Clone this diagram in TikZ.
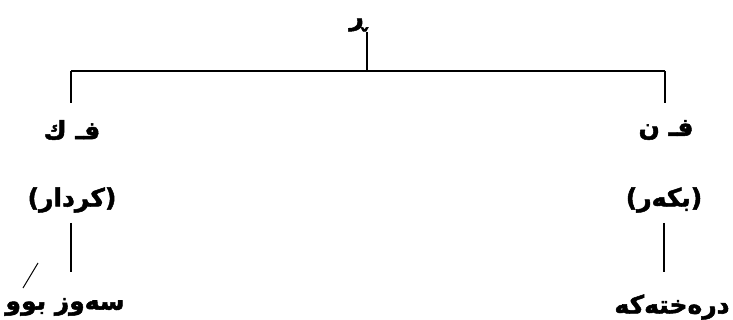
\documentclass[tikz,border=0pt]{standalone}
\usepackage{fontspec}
\TeXXeTstate=1
\newfontfamily\arabicfont[Script=Arabic,BoldFont={DejaVu Sans Bold},BoldFeatures={FakeBold=2}]{DejaVu Sans}
\begin{document}
\begin{tikzpicture}[x=1pt,y=-1pt,
  lbl/.style={font=\arabicfont\bfseries\fontsize{25}{30}\selectfont, inner sep=0pt},
  ln/.style={line width=1.6pt}]
\useasboundingbox (0,0) rectangle (733,320);
\node[lbl] (ra) at (358,25) {\beginR ڕ\endR};
\coordinate (top) at (367,32);
\coordinate (mid) at (367,71);
\coordinate (l) at (71,71);
\coordinate (r) at (665,71);
\coordinate (lend) at (71,103);
\coordinate (rend) at (665,103);
\node[lbl] (vp) at (72,130) {\beginR فـ ك\endR};
\node[lbl] (np) at (666,130) {\beginR فـ ن\endR};
\node[lbl] (vpg) at (72,200) {\beginR (کردار)\endR};
\node[lbl] (npg) at (664,200) {\beginR (بکەر)\endR};
\coordinate (lv1) at (71,223);
\coordinate (lv2) at (71,272);
\coordinate (rv1) at (664,223);
\coordinate (rv2) at (664,272);
\coordinate (s1) at (38,263);
\coordinate (s2) at (23,288);
\node[lbl] (w1) at (65,307) {\beginR سەوز بوو\endR};
\node[lbl] (w2) at (672,307) {\beginR درەختەکە\endR};
\draw[ln] (top) -- (mid);
\draw[ln] (l) -- (r);
\draw[ln] (l) -- (lend);
\draw[ln] (r) -- (rend);
\draw[ln] (lv1) -- (lv2);
\draw[ln] (rv1) -- (rv2);
\draw[line width=1pt] (s1) -- (s2);
\end{tikzpicture}
\end{document}
